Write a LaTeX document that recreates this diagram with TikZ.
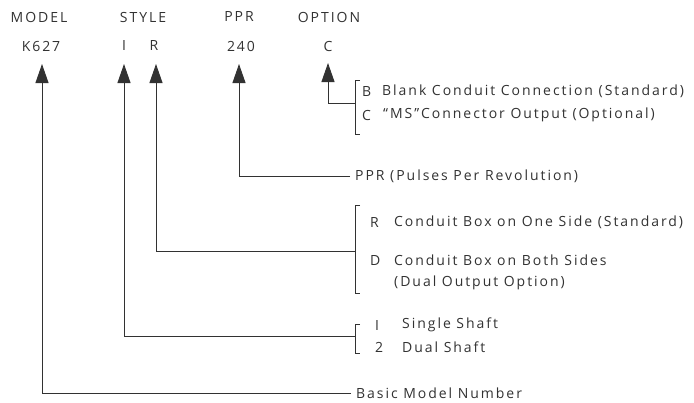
\documentclass[tikz,border=0pt]{standalone}
\usepackage{fontspec}
\setmainfont{Open Sans}[LetterSpace=14]
\usetikzlibrary{arrows.meta}
\definecolor{ink}{RGB}{50,50,50}

\begin{document}
\begin{tikzpicture}[x=1pt, y=-1pt, >={Triangle[width=13pt,length=19pt]},
      font=\fontsize{14}{16}\selectfont, color=ink,
      hdr/.style ={inner sep=0pt},
      sel/.style ={inner sep=0pt},
      txt/.style ={anchor=west, inner xsep=5pt, inner ysep=0pt},
      lead/.style={draw=ink, line width=0.9pt},
      brk/.style ={draw=ink, line width=0.9pt}]
    \useasboundingbox (0,0) rectangle (694,402);
    % --- header row and the code that is ordered ---
    \node[hdr] (hModel)  at (39,17)  {MODEL};
    \node[hdr] (hStyle)  at (143,17) {STYLE};
    \node[hdr] (hPpr)    at (239,17) {PPR};
    \node[hdr] (hOption) at (329,17) {OPTION};
    \node[sel] (k627) at (41,46)  {K627};
    \node[sel] (sI)   at (124,46) {I};
    \node[sel] (sR)   at (154,46) {R};
    \node[sel] (p240) at (241,46) {240};
    \node[sel] (oC)   at (328,46) {C};
    % arrow tips below each code
    \coordinate (tipModel) at (42,64);
    \coordinate (tipI)     at (124,64);
    \coordinate (tipR)     at (156,64);
    \coordinate (tipPpr)   at (239,64);
    \coordinate (tipOpt)   at (328,63);
    % --- OPTION: B / C ---
    \draw[brk] (360,80) -- (355,80) -- (355,134) -- (360,134);
    \coordinate (bOpt) at (355,103);
    \node[txt] (optB)  at (357,91)  {B};
    \node[txt] (optBt) at (377,91)  {Blank Conduit Connection (Standard)};
    \node[txt] (optC)  at (357,115) {C};
    \node[txt] (optCt) at (378,115) {``MS''Connector Output (Optional)};
    \draw[lead, ->] (bOpt) -| (tipOpt);
    % --- PPR ---
    \node[txt] (ppr) at (350,176) {PPR (Pulses Per Revolution)};
    \draw[lead, ->] (ppr.west) -| (tipPpr);
    % --- STYLE, second letter: R / D ---
    \draw[brk] (360,205) -- (355,205) -- (355,293) -- (360,293);
    \coordinate (bSide) at (355,251);
    \node[txt] (sideR)  at (365,222) {R};
    \node[txt] (sideRt) at (389,222) {Conduit Box on One Side (Standard)};
    \node[txt] (sideD)  at (365,260) {D};
    \node[txt] (sideDt) at (389,260) {Conduit Box on Both Sides};
    \node[txt] (sideDu) at (389,283) {(Dual Output Option)};
    \draw[lead, ->] (bSide) -| (tipR);
    % --- STYLE, first letter: 1 / 2 ---
    \draw[brk] (360,324) -- (355,324) -- (355,353) -- (360,353);
    \coordinate (bShaft) at (355,336);
    \node[txt] (shaft1)  at (370,325) {I};
    \node[txt] (shaft1t) at (397,325) {Single Shaft};
    \node[txt] (shaft2)  at (370,347) {2};
    \node[txt] (shaft2t) at (397,347) {Dual Shaft};
    \draw[lead, ->] (bShaft) -| (tipI);
    % --- MODEL ---
    \node[txt] (basic) at (351,393) {Basic Model Number};
    \draw[lead, ->] (basic.west) -| (tipModel);
\end{tikzpicture}
\end{document}
